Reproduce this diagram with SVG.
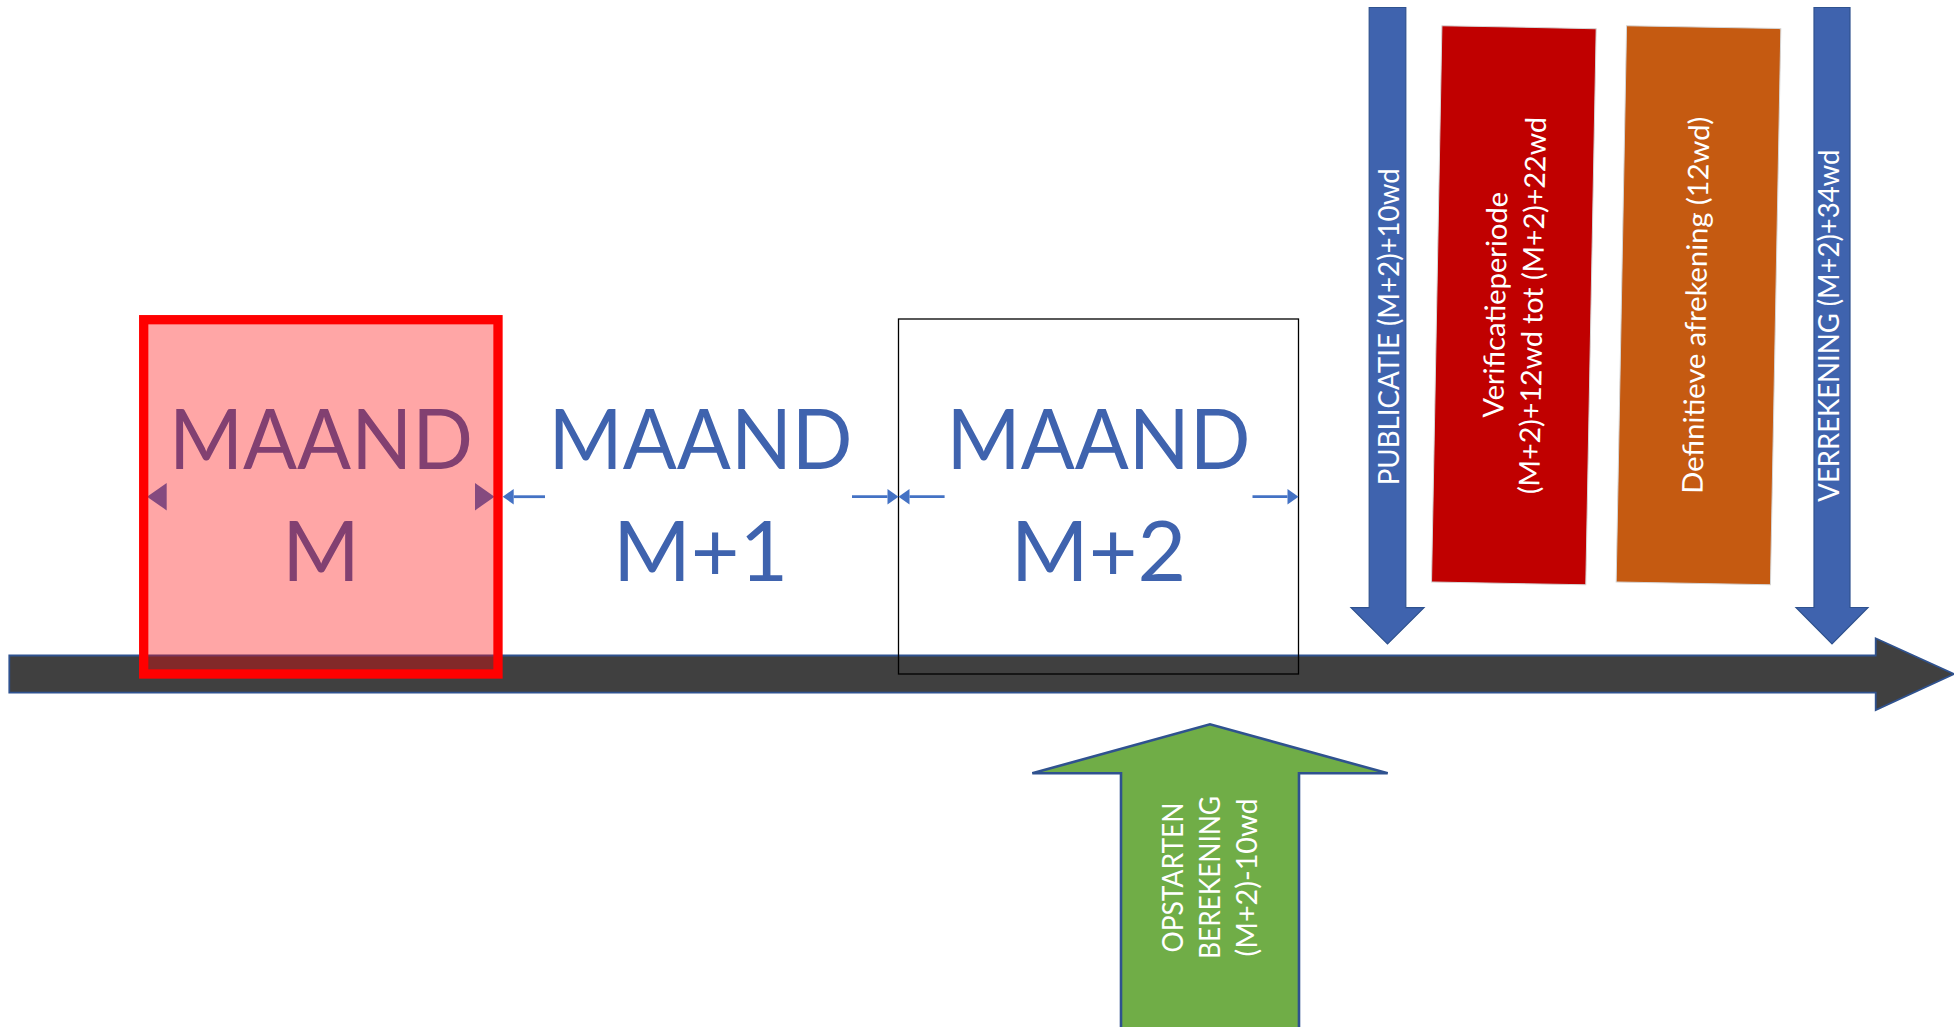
<svg xmlns="http://www.w3.org/2000/svg" width="1954" height="1027" viewBox="0 0 1954 1027">
  <defs>
    <style>
      .month { font-family: Lato, "Liberation Sans", sans-serif; font-size: 84px; fill: #3F63AE; text-anchor: middle; }
      .label { font-family: Lato, "Liberation Sans", sans-serif; font-size: 28.5px; fill: #FFFFFF; text-anchor: middle; }
      .dim { stroke: #4472C4; stroke-width: 2.8; fill: none; marker-end: url(#head); }
      .blue-arrow { fill: #3F63AE; stroke: #2F528F; stroke-width: 1.2; }
      .period { stroke: #D6D6D6; stroke-width: 1; }
    </style>
    <marker id="head" markerUnits="userSpaceOnUse" markerWidth="12" markerHeight="16" refX="0" refY="7.75" orient="auto" overflow="visible">
      <path d="M0,0 L11,7.75 L0,15.5 Z" fill="#4472C4"/>
    </marker>
  </defs>

  <!-- time axis -->
  <g id="timeline">
    <path d="M9.3,655.5 H1875.7 V638.3 L1954,674 L1875.7,710 V692.7 H9.3 Z" fill="#404040" stroke="#2F528F" stroke-width="1.8"/>
  </g>

  <!-- month M+2 frame -->
  <g id="month-m2">
    <rect x="898.5" y="319" width="400" height="355" fill="none" stroke="#000000" stroke-width="1.3"/>
    <text class="month" x="1098.5" y="469" textLength="304" lengthAdjust="spacingAndGlyphs">MAAND</text>
    <text class="month" x="1098.5" y="581">M+2</text>
  </g>

  <!-- month M+1 -->
  <g id="month-m1">
    <text class="month" x="700.6" y="469" textLength="304" lengthAdjust="spacingAndGlyphs">MAAND</text>
    <text class="month" x="700.6" y="581">M+1</text>
  </g>

  <!-- month span connectors -->
  <g id="connectors">
    <line class="dim" x1="545" y1="496.7" x2="513.7" y2="496.7"/>
    <line class="dim" x1="852" y1="496.7" x2="887.5" y2="496.7"/>
    <line class="dim" x1="944.6" y1="496.7" x2="909.5" y2="496.7"/>
    <line class="dim" x1="1252.5" y1="496.7" x2="1287.5" y2="496.7"/>
    <polygon points="147,496.7 166.7,483 166.7,510.4" fill="#4472C4"/>
    <polygon points="494.5,496.7 475,483 475,510.4" fill="#4472C4"/>
  </g>

  <!-- month M (highlighted) -->
  <g id="month-m">
    <text class="month" x="320.9" y="469" textLength="304" lengthAdjust="spacingAndGlyphs">MAAND</text>
    <text class="month" x="320.9" y="581">M</text>
    <rect x="143.7" y="319.7" width="354.3" height="354.3" fill="#FF0000" fill-opacity="0.35" stroke="#FF0000" stroke-width="9.3"/>
  </g>

  <!-- publication marker -->
  <g id="publicatie">
    <path class="blue-arrow" d="M1369.2,7.5 H1405.8 V607.7 H1424 L1387.5,644 L1351,607.7 H1369.2 Z"/>
    <text class="label" transform="translate(1398.5,326.8) rotate(-90)" textLength="317" lengthAdjust="spacingAndGlyphs">PUBLICATIE (M+2)+10wd</text>
  </g>

  <!-- verification period -->
  <g id="verificatieperiode" transform="translate(1513.85,305.3) rotate(1.07)">
    <rect class="period" x="-77.15" y="-278.15" width="154.3" height="556.3" fill="#C00000"/>
    <g transform="rotate(-90)">
      <text class="label" x="0" y="-8.5" textLength="226" lengthAdjust="spacingAndGlyphs">Verificatieperiode</text>
      <text class="label" x="0" y="28.8" textLength="377" lengthAdjust="spacingAndGlyphs">(M+2)+12wd tot (M+2)+22wd</text>
    </g>
  </g>

  <!-- final settlement -->
  <g id="definitieve-afrekening" transform="translate(1698.5,305.3) rotate(1.07)">
    <rect class="period" x="-77.15" y="-278.15" width="154.3" height="556.3" fill="#C55A11"/>
    <text class="label" transform="rotate(-90)" x="0" y="7.5" textLength="377" lengthAdjust="spacingAndGlyphs">Definitieve afrekening (12wd)</text>
  </g>

  <!-- settlement marker -->
  <g id="verrekening">
    <path class="blue-arrow" d="M1814,7.5 H1850 V607.5 H1868 L1832,644 L1796,607.5 H1814 Z"/>
    <text class="label" transform="translate(1839,325.7) rotate(-90)" textLength="352" lengthAdjust="spacingAndGlyphs">VERREKENING (M+2)+34wd</text>
  </g>

  <!-- calculation start -->
  <g id="opstarten-berekening">
    <path d="M1121,1032 V773.3 H1032.3 L1210,724.3 L1387.7,773.3 H1299 V1032" fill="#70AD47" stroke="#2F528F" stroke-width="2.6"/>
    <g transform="translate(1182.7,877.5) rotate(-90)">
      <text class="label" x="0" y="0" textLength="150" lengthAdjust="spacingAndGlyphs">OPSTARTEN</text>
      <text class="label" x="0" y="37.3" textLength="163" lengthAdjust="spacingAndGlyphs">BEREKENING</text>
      <text class="label" x="0" y="74.3" textLength="158" lengthAdjust="spacingAndGlyphs">(M+2)-10wd</text>
    </g>
  </g>
</svg>
